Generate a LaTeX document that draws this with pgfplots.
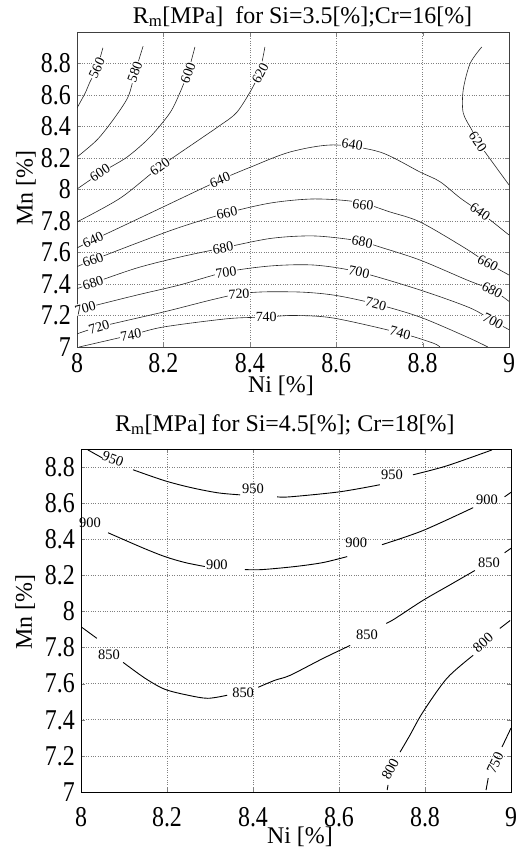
\documentclass[border=0pt]{standalone}
\usepackage{fontspec}
\setmainfont{Liberation Serif}
\usepackage{pgfplots}
\pgfplotsset{compat=1.18}
\tikzset{
  clab/.style={font=\fontsize{14}{14}\selectfont, inner sep=0.8bp, fill=white},
  clabb/.style={font=\fontsize{14.5}{14.5}\selectfont, inner sep=0pt},
  topline/.style={line width=0.6bp, black!85},
  botline/.style={line width=0.9bp, black},
}
\begin{document}
\begin{tikzpicture}
\useasboundingbox (0bp,0bp) rectangle (518bp,851bp);
\pgfplotsset{
  rm/.style={
    scale only axis, anchor=south west,
    xmin=8, xmax=9,
    xtick={8,8.2,8.4,8.6,8.8,9},
    ytick={7,7.2,7.4,7.6,7.8,8,8.2,8.4,8.6,8.8},
    tick align=inside, major tick length=4bp,
    grid=major,
    major grid style={dotted, gray, line width=0.6bp},
    /pgf/number format/assume math mode=true,
    /pgf/number format/fixed,
    font=\fontsize{24}{28}\selectfont,
    tick label style={font=\fontsize{24}{28}\selectfont, yscale=1.2},
    yticklabel style={inner sep=0pt, xshift=-6bp},
    xticklabel style={inner sep=0pt, yshift=-5bp},
    clip mode=individual,
    every axis plot/.append style={no marks, smooth, tension=0.5},
  },
}
% ---------------- top plot ----------------
\begin{axis}[rm, at={(77bp,504bp)}, width=432bp, height=315bp,
  ymin=7, ymax=9,
  axis line style={line width=0.7bp, black!75},
  title={R\textsubscript{m}[MPa]\ \ for Si=3.5[\%];Cr=16[\%]},
  title style={at={(0.522,1)}, anchor=base, yshift=3bp, font=\fontsize{24}{28}\selectfont, inner sep=0pt},
  xlabel={Ni [\%]},
  xlabel style={at={(axis description cs:0.472,-0.124)}, anchor=center, inner sep=0pt},
  ylabel={Mn [\%]},
  ylabel style={at={(axis description cs:-0.118,0.505)}, anchor=center, inner sep=0pt},
]
\addplot[topline] coordinates {(8,8.517) (8.019,8.613) (8.03,8.683) (8.046,8.77) (8.06,8.90)};
\addplot[topline] coordinates {(8,8.206) (8.046,8.314) (8.083,8.44) (8.118,8.587) (8.134,8.74) (8.153,8.91)};
\addplot[topline] coordinates {(8,8.003) (8.058,8.111) (8.116,8.206) (8.169,8.333) (8.215,8.486) (8.238,8.613) (8.257,8.746) (8.273,8.905)};
\addplot[topline] coordinates {(8,7.794) (8.1,7.945) (8.19,8.14) (8.285,8.32) (8.33,8.405) (8.37,8.49) (8.407,8.65) (8.424,8.76) (8.435,8.905)};
\addplot[topline] coordinates {(8.937,8.905) (8.91,8.80) (8.894,8.632) (8.894,8.486) (8.914,8.378) (8.928,8.302) (8.963,8.168) (9,8.029)};
\addplot[topline] coordinates {(8,7.629) (8.037,7.679) (8.1,7.76) (8.2,7.89) (8.331,8.06) (8.4,8.14) (8.493,8.238) (8.593,8.283) (8.701,8.238) (8.794,8.111) (8.84,8.05) (8.887,7.946) (8.933,7.857) (9,7.711)};
\addplot[topline] coordinates {(8,7.51) (8.037,7.552) (8.139,7.66) (8.238,7.76) (8.347,7.851) (8.45,7.915) (8.55,7.94) (8.65,7.92) (8.725,7.857) (8.794,7.794) (8.894,7.635) (8.951,7.533) (9,7.457)};
\addplot[topline] coordinates {(8,7.37) (8.037,7.406) (8.139,7.502) (8.238,7.571) (8.338,7.629) (8.45,7.69) (8.55,7.705) (8.65,7.675) (8.701,7.635) (8.794,7.552) (8.903,7.425) (8.961,7.362) (9,7.29)};
\addplot[topline] coordinates {(8,7.235) (8.019,7.248) (8.139,7.33) (8.238,7.394) (8.345,7.476) (8.45,7.515) (8.55,7.52) (8.653,7.476) (8.794,7.362) (8.91,7.248) (8.963,7.165) (9,7.11)};
\addplot[topline] coordinates {(8,7.083) (8.051,7.127) (8.2,7.222) (8.375,7.337) (8.5,7.35) (8.593,7.33) (8.692,7.273) (8.794,7.19) (8.903,7.063) (8.951,7.0)};
\addplot[topline] coordinates {(8.005,7.0) (8.125,7.076) (8.2,7.127) (8.35,7.18) (8.438,7.19) (8.5,7.2) (8.593,7.184) (8.748,7.089) (8.824,7.025) (8.84,7.0)};
% labels
\node[clab, rotate=65] at (axis cs:8.046,8.771) {560};
\node[clab, rotate=70] at (axis cs:8.134,8.746) {580};
\node[clab, rotate=70] at (axis cs:8.257,8.74) {600};
\node[clab, rotate=62] at (axis cs:8.424,8.74) {620};
\node[clab, rotate=33] at (axis cs:8.053,8.105) {600};
\node[clab, rotate=36] at (axis cs:8.192,8.143) {620};
\node[clab, rotate=25] at (axis cs:8.037,7.679) {640};
\node[clab, rotate=22] at (axis cs:8.331,8.06) {640};
\node[clab, rotate=-8] at (axis cs:8.637,8.283) {640};
\node[clab, rotate=-55] at (axis cs:8.928,8.302) {620};
\node[clab, rotate=-35] at (axis cs:8.933,7.857) {640};
\node[clab, rotate=20] at (axis cs:8.037,7.552) {660};
\node[clab, rotate=12] at (axis cs:8.347,7.851) {660};
\node[clab, rotate=-5] at (axis cs:8.662,7.902) {660};
\node[clab, rotate=-28] at (axis cs:8.951,7.533) {660};
\node[clab, rotate=18] at (axis cs:8.037,7.406) {680};
\node[clab, rotate=10] at (axis cs:8.338,7.629) {680};
\node[clab, rotate=-10] at (axis cs:8.66,7.667) {680};
\node[clab, rotate=-28] at (axis cs:8.961,7.362) {680};
\node[clab, rotate=15] at (axis cs:8.019,7.248) {700};
\node[clab, rotate=8] at (axis cs:8.345,7.476) {700};
\node[clab, rotate=-12] at (axis cs:8.653,7.476) {700};
\node[clab, rotate=-28] at (axis cs:8.963,7.165) {700};
\node[clab, rotate=17] at (axis cs:8.051,7.127) {720};
\node[clab, rotate=3] at (axis cs:8.375,7.337) {720};
\node[clab, rotate=-15] at (axis cs:8.692,7.273) {720};
\node[clab, rotate=10] at (axis cs:8.125,7.076) {740};
\node[clab, rotate=0] at (axis cs:8.438,7.19) {740};
\node[clab, rotate=-15] at (axis cs:8.748,7.089) {740};
\end{axis}
% ---------------- bottom plot ----------------
\begin{axis}[rm, at={(81bp,59bp)}, width=430bp, height=343bp,
  ymin=7, ymax=8.9,
  axis line style={line width=0.9bp, black},
  title={R\textsubscript{m}[MPa] for Si=4.5[\%]; Cr=18[\%]},
  title style={at={(0.474,1)}, anchor=base, yshift=12bp, font=\fontsize{24}{28}\selectfont, inner sep=0pt},
  xlabel={Ni [\%]},
  xlabel style={at={(axis description cs:0.509,-0.131)}, anchor=center, inner sep=0pt},
  ylabel={Mn [\%]},
  ylabel style={at={(axis description cs:-0.130,0.525)}, anchor=center, inner sep=0pt},
  xticklabel style={yshift=-8bp},
]
% 950
\addplot[botline] coordinates {(8.016,8.895) (8.049,8.851)};
\addplot[botline] coordinates {(8.121,8.785) (8.195,8.724) (8.258,8.685) (8.319,8.657) (8.37,8.646)};
\addplot[botline] coordinates {(8.456,8.635) (8.486,8.635) (8.602,8.663) (8.695,8.702)};
\addplot[botline] coordinates {(8.772,8.757) (8.851,8.807) (8.956,8.895)};
% 900
\addplot[botline] coordinates {(8.063,8.436) (8.142,8.354) (8.195,8.304) (8.242,8.271) (8.288,8.249)};
\addplot[botline] coordinates {(8.381,8.232) (8.421,8.232) (8.498,8.249) (8.563,8.271) (8.619,8.304)};
\addplot[botline] coordinates {(8.7,8.37) (8.795,8.448) (8.912,8.575)};
\addplot[botline] coordinates {(8.985,8.635) (9,8.66)};
% 850
\addplot[botline] coordinates {(8.985,8.325) (9,8.35)};
\addplot[botline] coordinates {(8.916,8.227) (8.86,8.15) (8.795,8.061) (8.73,7.96) (8.71,7.934)};
\addplot[botline] coordinates {(8.626,7.812) (8.563,7.74) (8.486,7.646) (8.451,7.619) (8.412,7.58)};
\addplot[botline] coordinates {(8.34,7.536) (8.295,7.519) (8.249,7.536) (8.195,7.569) (8.149,7.63) (8.098,7.718)};
\addplot[botline] coordinates {(8.037,7.851) (8.002,7.912)};
% 800
\addplot[botline] coordinates {(8.974,7.906) (8.998,7.95)};
\addplot[botline] coordinates {(8.912,7.757) (8.851,7.63) (8.795,7.442) (8.765,7.315) (8.742,7.221)};
\addplot[botline] coordinates {(8.714,7.039) (8.712,7.011)};
% 750
\addplot[botline] coordinates {(8.979,7.249) (9,7.354)};
\addplot[botline] coordinates {(8.947,7.077) (8.942,7.011)};
% labels
\node[clabb, rotate=-20] at (axis cs:8.074,8.845) {950};
\node[clabb] at (axis cs:8.4,8.68) {950};
\node[clabb] at (axis cs:8.723,8.757) {950};
\node[clabb] at (axis cs:8.021,8.492) {900};
\node[clabb] at (axis cs:8.316,8.26) {900};
\node[clabb] at (axis cs:8.64,8.381) {900};
\node[clabb] at (axis cs:8.944,8.619) {900};
\node[clabb] at (axis cs:8.949,8.271) {850};
\node[clabb] at (axis cs:8.665,7.873) {850};
\node[clabb] at (axis cs:8.377,7.547) {850};
\node[clabb] at (axis cs:8.065,7.762) {850};
\node[clabb, rotate=42] at (axis cs:8.935,7.829) {800};
\node[clabb, rotate=62] at (axis cs:8.719,7.127) {800};
\node[clabb, rotate=65] at (axis cs:8.963,7.16) {750};
\end{axis}
\end{tikzpicture}
\end{document}
